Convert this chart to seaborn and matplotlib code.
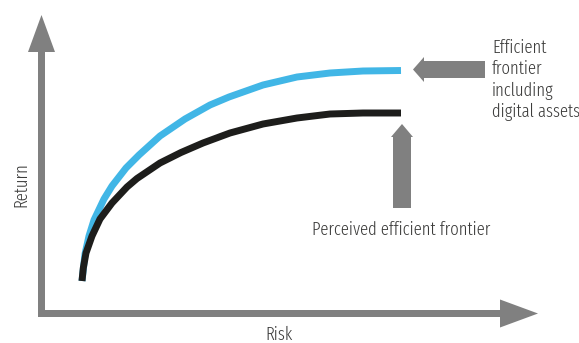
import matplotlib
matplotlib.use("Agg")
import matplotlib.pyplot as plt
from matplotlib.patches import FancyArrow
import pandas as pd
import seaborn as sns

# Efficient frontier with digital assets (upper curve)
risk_digital = [82, 85, 89, 94, 104, 112, 126, 139, 160, 185, 210, 229, 263, 297, 330, 363, 401]
return_digital = [62, 89, 107, 123, 144, 157, 175, 188, 207, 224, 238, 246, 258, 266, 270, 272, 272.5]

# Perceived efficient frontier (lower curve)
risk_perceived = [82, 83.3, 86, 92, 100, 112, 127, 137, 160, 181, 203, 230, 263, 297, 330, 363, 401]
return_perceived = [62, 75, 90, 107, 124, 140, 156, 164.5, 180, 190.5, 200, 210, 219, 225, 229, 230, 230]

series_names = ["Efficient frontier including digital assets", "Perceived efficient frontier"]
axis_labels = ["Risk", "Return"]
label_digital = ["Efficient", "frontier", "including", "digital assets"]
label_perceived = "Perceived efficient frontier"

df = pd.concat([
    pd.DataFrame({"risk": risk_digital, "ret": return_digital, "series": series_names[0]}),
    pd.DataFrame({"risk": risk_perceived, "ret": return_perceived, "series": series_names[1]}),
], ignore_index=True)

sns.set_theme(style="white")
plt.rcParams["font.family"] = ["Fira Sans Extra Condensed", "DejaVu Sans"]

W, H = 579, 343
fig = plt.figure(figsize=(W / 100, H / 100), dpi=100)
ax = fig.add_axes([0, 0, 1, 1])
ax.set_xlim(0, W)
ax.set_ylim(0, H)
ax.axis("off")

grey = "#808080"
text_col = "#3c3c3b"

# Axis arrows
ax.add_patch(FancyArrow(41.5, 26, 0, 302, width=7, head_width=27, head_length=37,
                        length_includes_head=True, color=grey, lw=0))
ax.add_patch(FancyArrow(38, 29.5, 500, 0, width=7, head_width=28, head_length=38,
                        length_includes_head=True, color=grey, lw=0))

sns.lineplot(data=df, x="risk", y="ret", hue="series", sort=False, estimator=None,
             palette={series_names[0]: "#41b6e6", series_names[1]: "#1d1d1b"},
             linewidth=5.0, legend=False, ax=ax, solid_capstyle="butt",
             solid_joinstyle="round")

# Pointer arrows
ax.add_patch(FancyArrow(485, 273.5, -72, 0, width=17, head_width=25, head_length=11,
                        length_includes_head=True, color=grey, lw=0))
ax.add_patch(FancyArrow(402, 135, 0, 84, width=18, head_width=22, head_length=13,
                        length_includes_head=True, color=grey, lw=0))

fs = 13
tkw = dict(color=text_col, fontsize=fs, fontweight=300)
ax.text(265, 3, axis_labels[0], ha="left", va="baseline", **tkw)
ax.text(21, 158, axis_labels[1], ha="center", va="center", rotation=90, **tkw)
ax.text(312, 108, label_perceived, ha="left", va="baseline", **tkw)
for i, line in enumerate(label_digital):
    ax.text(492, 290 - i * 21.3, line, ha="left", va="baseline", **tkw)

fig.savefig("out.png", dpi=100)
